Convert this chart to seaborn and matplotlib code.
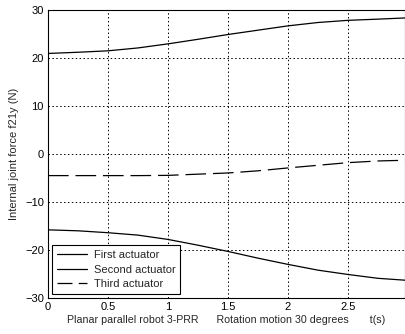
import matplotlib
matplotlib.use("Agg")
import matplotlib.pyplot as plt
import seaborn as sns
import pandas as pd

t = [0.0, 0.25, 0.5, 0.75, 1.0, 1.25, 1.5, 1.75, 2.0, 2.25, 2.5, 2.75, 2.98]
first = [20.95, 21.2, 21.5, 22.1, 22.95, 23.9, 24.9, 25.8, 26.7, 27.4, 27.85, 28.1, 28.35]
second = [-15.8, -16.0, -16.4, -16.9, -17.8, -19.0, -20.3, -21.7, -23.0, -24.2, -25.1, -25.9, -26.3]
third = [-4.5, -4.5, -4.5, -4.5, -4.45, -4.2, -3.95, -3.5, -2.9, -2.35, -1.8, -1.45, -1.3]
names = ["First actuator", "Second actuator", "Third actuator"]
xticks = [0, 0.5, 1, 1.5, 2, 2.5]
xticklabels = ["0", "0.5", "1", "1.5", "2", "2.5"]
yticks = [-30, -20, -10, 0, 10, 20, 30]

rows = []
for name, vals in zip(names, [first, second, third]):
    for ti, v in zip(t, vals):
        rows.append({"t": ti, "force": v, "series": name})
df = pd.DataFrame(rows)

sns.set_style("white")
plt.rcParams["font.family"] = ["Liberation Sans", "DejaVu Sans"]

fig = plt.figure(figsize=(4.05, 3.34), dpi=100)
ax = fig.add_axes([0.1185, 0.1078, 0.8815, 0.8622])

sns.lineplot(data=df, x="t", y="force", hue="series", style="series",
             palette={n: "black" for n in names},
             dashes={"First actuator": "", "Second actuator": "", "Third actuator": (16.5, 5.5)},
             linewidth=0.9, ax=ax, legend=True, sort=False)

ax.set_xlim(0, 2.975)
ax.set_ylim(-30, 30)
ax.set_xticks(xticks)
ax.set_xticklabels(xticklabels)
ax.set_yticks(yticks)
ax.grid(True, color="black", linestyle=(0, (1.5, 2.5)), linewidth=0.7)
ax.tick_params(direction="in", length=3, labelsize=8, colors="black", width=0.7, pad=3)
for s in ax.spines.values():
    s.set_color("black")
    s.set_linewidth(0.8)

ax.set_xlabel("Planar parallel robot 3-PRR      Rotation motion 30 degrees       t(s)",
              fontsize=7.7, labelpad=2)
ax.set_ylabel("Internal joint force f21y (N)", fontsize=8, labelpad=4)

leg = ax.legend(loc="lower left", fontsize=8, frameon=True, fancybox=False,
                edgecolor="black", framealpha=1, handlelength=2.7,
                borderaxespad=0.35, borderpad=0.45, labelspacing=0.4, handletextpad=0.6)
leg.get_frame().set_linewidth(0.8)
for h in leg.get_lines():
    h.set_linewidth(0.9)
leg.get_lines()[2].set_dashes((12, 5))

fig.savefig("out.png", dpi=100)
